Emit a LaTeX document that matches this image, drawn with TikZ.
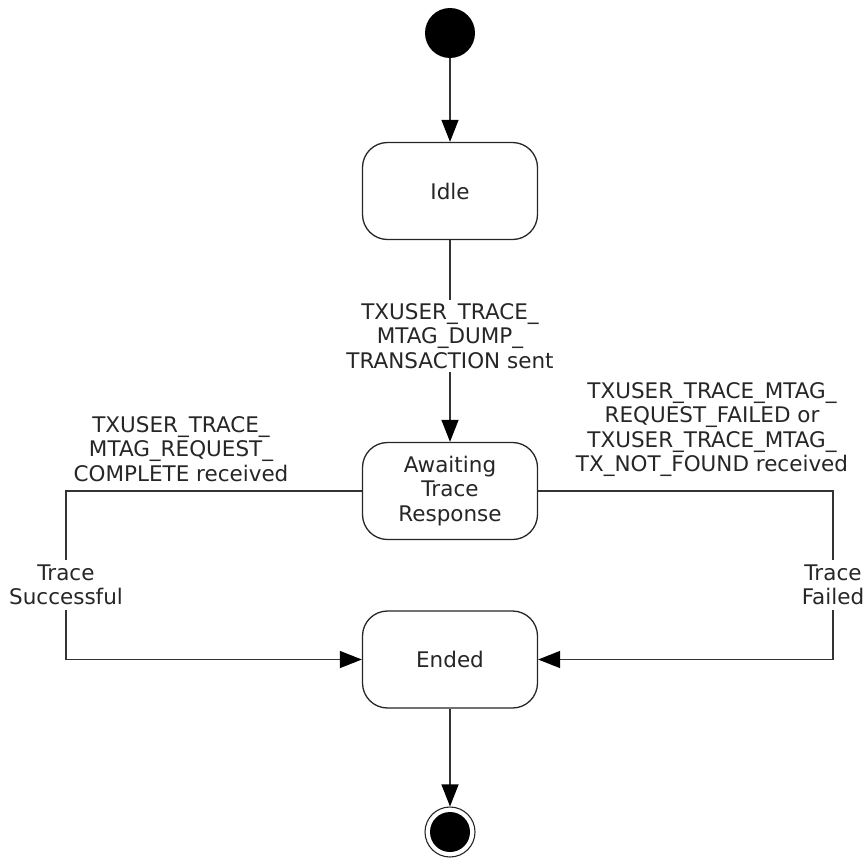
\documentclass[tikz,border=0pt]{standalone}
\usepackage{fontspec}
\setmainfont{DejaVu Sans}
\usetikzlibrary{arrows.meta}
\begin{document}
\begin{tikzpicture}[x=1pt,y=-1pt,
  every node/.style={font=\fontsize{21.5}{24.5}\selectfont, text=black!85},
  state/.style={draw=black!85, line width=1.3pt, rounded corners=25pt, fill=white,
     minimum width=175pt, minimum height=97pt, align=center, inner sep=2pt},
  lbl/.style={align=center, inner sep=3pt},
  conn/.style={draw=black!80, line width=1.3pt},
  arr/.style={conn, -{Triangle[length=22pt,width=17pt,color=black]}}
]
\useasboundingbox (0,0) rectangle (866,859);
\node[circle, fill=black, minimum size=50pt, inner sep=0pt] (start) at (450,33) {};
\node[state] (idle) at (450,191) {Idle};
\node[state] (await) at (450,491) {Awaiting\\Trace\\Response};
\node[state] (ended) at (450,659.5) {Ended};
\node[circle, draw=black!85, line width=1.1pt, minimum size=50pt, inner sep=0pt] (stop) at (450,832) {};
\node[circle, fill=black, minimum size=40pt, inner sep=0pt] (stopin) at (stop.center) {};

\node[lbl] (lmid) at (450,336) {TXUSER\_TRACE\_\\MTAG\_DUMP\_\\TRANSACTION sent};
\node[lbl] (lleft) at (181,449) {TXUSER\_TRACE\_\\MTAG\_REQUEST\_\\COMPLETE received};
\node[lbl] (lright) at (712,429.5) {TXUSER\_TRACE\_MTAG\_\\REQUEST\_FAILED or\\TXUSER\_TRACE\_MTAG\_\\TX\_NOT\_FOUND received};
\node[lbl, inner sep=5pt] (lts) at (66,585) {Trace\\Successful};
\node[lbl, inner sep=5pt] (ltf) at (833,585) {Trace\\Failed};

\coordinate (lc1) at (66,491);
\coordinate (lc2) at (66,659.5);
\coordinate (rc1) at (833,491);
\coordinate (rc2) at (833,659.5);

\draw[arr] (start) -- (idle);
\draw[conn] (idle) -- (lmid);
\draw[arr] (lmid) -- (await);
\draw[conn] (await.west) -- (lc1) -- (lts);
\draw[arr] (lts) -- (lc2) -- (ended.west);
\draw[conn] (await.east) -- (rc1) -- (ltf);
\draw[arr] (ltf) -- (rc2) -- (ended.east);
\draw[arr] (ended) -- (stop);
\end{tikzpicture}
\end{document}
